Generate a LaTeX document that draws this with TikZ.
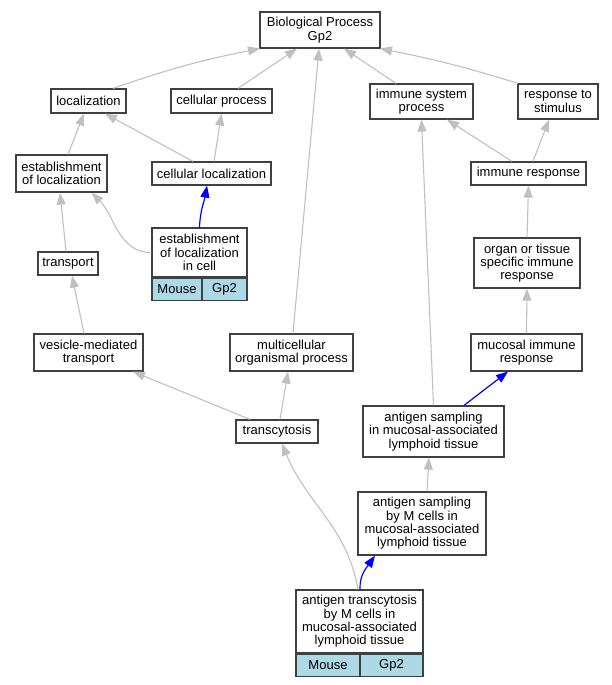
\documentclass[tikz,border=0pt]{standalone}
\usepackage{fontspec}
\setmainfont{Liberation Sans}
\usetikzlibrary{arrows.meta}
\definecolor{cellblue}{HTML}{ADD8E6}
\definecolor{edgegray}{HTML}{C0C0C0}

\begin{document}
\begin{tikzpicture}[x=1pt, y=-1pt,
    term/.style={draw=black!75, line width=1.2pt, fill=white, align=center, inner sep=0pt,
                 font=\fontsize{13}{13.3}\selectfont},
    species/.style={term, fill=cellblue, minimum height=22pt},
    isa/.style={draw=edgegray, line width=1.1pt, -{Triangle[length=12pt,width=9pt]}},
    partof/.style={draw=blue, line width=1.2pt, -{Triangle[length=12pt,width=9pt]}}]

    \useasboundingbox (0,0) rectangle (611,685);

    % Draw GO terms
    \node[term, minimum width=120pt, minimum height=36pt] (bp) at (320,30) {Biological Process\\Gp2};

    \node[term, minimum width=75pt, minimum height=24pt] (locz) at (88.5,101) {localization};
    \node[term, minimum width=101pt, minimum height=24pt] (cellp) at (221.5,101) {cellular process};
    \node[term, minimum width=103pt, minimum height=35pt] (imsys) at (421.5,101.5) {immune system\\process};
    \node[term, minimum width=80pt, minimum height=35pt] (resp) at (558,101.5) {response to\\stimulus};

    \node[term, minimum width=91pt, minimum height=37pt] (estloc) at (61.5,173.5) {establishment\\of localization};
    \node[term, minimum width=119pt, minimum height=23pt] (cellloc) at (211.5,173.5) {cellular localization};
    \node[term, minimum width=115pt, minimum height=23pt] (imresp) at (528.5,173.5) {immune response};

    \node[term, minimum width=95pt, minimum height=49pt] (estcell) at (199.5,252.5) {establishment\\of localization\\in cell};
    \node[species, minimum width=50pt, anchor=north west] (estcellm) at (estcell.south west) {Mouse};
    \node[species, minimum width=45pt, anchor=north east] (estcellg) at (estcell.south east) {Gp2};

    \node[term, minimum width=60pt, minimum height=23pt] (transp) at (68,263.5) {transport};
    \node[term, minimum width=106pt, minimum height=50pt] (organ) at (527,263) {organ or tissue\\specific immune\\response};

    \node[term, minimum width=109pt, minimum height=37pt] (vesic) at (88.5,352.5) {vesicle-mediated\\transport};
    \node[term, minimum width=123pt, minimum height=37pt] (multi) at (291.5,352.5) {multicellular\\organismal process};
    \node[term, minimum width=111pt, minimum height=37pt] (mucos) at (526.5,352.5) {mucosal immune\\response};

    \node[term, minimum width=82pt, minimum height=23pt] (transc) at (277,431.5) {transcytosis};
    \node[term, minimum width=141pt, minimum height=51pt] (agsamp) at (433.5,431.5) {antigen sampling\\in mucosal-associated\\lymphoid tissue};

    \node[term, minimum width=128pt, minimum height=63pt] (agsampm) at (422,523.5) {antigen sampling\\by M cells in\\mucosal-associated\\lymphoid tissue};

    \node[term, minimum width=127pt, minimum height=63pt] (agtrans) at (359.5,621.5) {antigen transcytosis\\by M cells in\\mucosal-associated\\lymphoid tissue};
    \node[species, minimum width=64pt, anchor=north west] (agtransm) at (agtrans.south west) {Mouse};
    \node[species, minimum width=63pt, anchor=north east] (agtransg) at (agtrans.south east) {Gp2};

    % Draw is_a edges
    \draw[isa] ([xshift=24.5pt]locz.north) to[bend left=4] ([xshift=-60pt]bp.south);
    \draw[isa] ([xshift=16.5pt]cellp.north) -- ([xshift=-23pt]bp.south);
    \draw[isa] ([xshift=1.5pt]multi.north) -- ([xshift=-1pt]bp.south);
    \draw[isa] ([xshift=-25.5pt]imsys.north) -- ([xshift=24pt]bp.south);
    \draw[isa] ([xshift=-40pt]resp.north) to[bend right=3] ([xshift=60pt]bp.south);

    \draw[isa] ([xshift=6.5pt]estloc.north) -- ([xshift=-4.5pt]locz.south);
    \draw[isa] ([xshift=-18.5pt]cellloc.north) -- ([xshift=16.5pt]locz.south);
    \draw[isa] ([xshift=2.5pt]cellloc.north) -- (cellp.south);

    \draw[isa] (estcell.west) to[out=180, in=-45] ([xshift=30pt]estloc.south);
    \draw[isa] ([xshift=-2pt]transp.north) -- ([xshift=-1.5pt]estloc.south);
    \draw[isa] ([xshift=-4.5pt]vesic.north) -- ([xshift=4pt]transp.south);

    \draw[isa] ([xshift=-27pt]transc.north) -- ([xshift=44.5pt]vesic.south);
    \draw[isa] ([xshift=3pt]transc.north) -- ([xshift=-3.5pt]multi.south);
    \draw[isa] ([xshift=-1.5pt]agtrans.north) to[out=100, in=-68] ([xshift=5pt]transc.south);

    \draw[isa] ([xshift=5pt]agsampm.north) -- ([xshift=-4.5pt]agsamp.south);
    \draw[isa] (agsamp.north) -- (imsys.south);
    \draw[isa] (mucos.north) -- (organ.south);
    \draw[isa] (organ.north) -- (imresp.south);
    \draw[isa] ([xshift=-16.5pt]imresp.north) -- ([xshift=25.5pt]imsys.south);
    \draw[isa] ([xshift=4.5pt]imresp.north) -- ([xshift=-9pt]resp.south);

    % Draw part_of edges
    \draw[partof] (estcell.north) to[out=88, in=-100] ([xshift=-4.5pt]cellloc.south);
    \draw[partof] ([xshift=0.5pt]agtrans.north) to[out=92, in=-125] ([xshift=-47pt]agsampm.south);
    \draw[partof] ([xshift=30.5pt]agsamp.north) -- ([xshift=-18.5pt]mucos.south);

\end{tikzpicture}
\end{document}
